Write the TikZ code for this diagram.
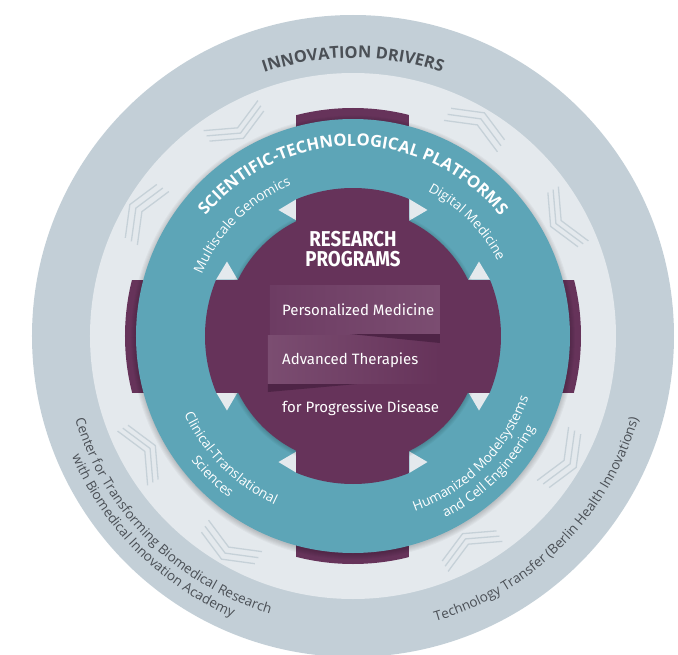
\documentclass[tikz,border=0pt]{standalone}
\usepackage{fontspec}
\setmainfont{Open Sans}
\newfontfamily\fira{Fira Sans}
\newfontfamily\firacond[FakeStretch=0.87]{Fira Sans}
\usetikzlibrary{decorations.text}
\definecolor{outerC}{HTML}{C3CFD7}
\definecolor{lightC}{HTML}{E4E9ED}
\definecolor{tealC}{HTML}{5DA5B7}
\definecolor{purpC}{HTML}{66335A}
\definecolor{purpL}{HTML}{7B4D71}
\definecolor{purpM}{HTML}{6D3C63}
\definecolor{purpD}{HTML}{4E2446}
\definecolor{chevC}{HTML}{C6D1D8}
\definecolor{grayT}{HTML}{4B5056}
\tikzset{
  chev/.style={draw=chevC, line width=1.3pt},
  wtext/.style={text=white, inner sep=0pt},
}
\begin{document}
\begin{tikzpicture}[x=1pt,y=1pt]
\useasboundingbox (-353,-318) rectangle (325,336);
\coordinate (C) at (0,0);
% rings
\fill[outerC] (C) circle (321);
\fill[lightC] (C) circle (263);
% chevrons
\foreach \t in {29,119,209,299}{
  \begin{scope}[rotate=\t]
    \foreach \r in {226,232,238}
      \draw[chev] (\r+14,31) -- (\r,0) -- (\r+14,-31);
  \end{scope}}
\foreach \t in {59.5,149.5,239.5,329.5}{
  \begin{scope}[rotate=\t]
    \foreach \r in {245,252,259}
      \draw[chev] (\r-13,31) -- (\r,0) -- (\r-13,-31);
  \end{scope}}
% purple tabs
\begin{scope}
  \clip (C) circle (228);
  \fill[purpC] (-56.5,-240) rectangle (56.5,240);
  \fill[purpC] (-240,-56.5) rectangle (240,56.5);
\end{scope}
% teal shadow
\foreach \i in {1,...,6}
  \fill[black, opacity=0.03] (0,-1.5) circle (216+\i);
% teal ring
\fill[tealC] (C) circle (217);
% light triangles
\foreach \a in {0,90,180,270}{
  \begin{scope}[rotate=\a]
    \fill[lightC] (-74.5,126) -- (-56.5,136.8) -- (-56.5,115.5) -- cycle;
    \fill[lightC] (74.5,126) -- (56.5,136.8) -- (56.5,115.5) -- cycle;
  \end{scope}}
% inner shadow
\foreach \i in {1,...,5}
  \fill[black, opacity=0.035] (0,-1) circle (127+\i);
% purple centre
\begin{scope}
  \clip (C) circle (148);
  \fill[purpC] (-56.5,-150) rectangle (56.5,150);
  \fill[purpC] (-150,-56.5) rectangle (150,56.5);
\end{scope}
\fill[purpC] (C) circle (128);
% bands
\shade[left color=purpL, right color=purpC] (-85,1) rectangle (87,-47);
\shade[left color=purpM, right color=purpL] (-83,51) rectangle (87,2);
\fill[purpD] (-3,2) -- (87,2) -- (87,-7) -- cycle;
\fill[purpD] (-85,-48) -- (4,-48) -- (-85,-56) -- cycle;
% centre texts
\node[wtext, anchor=base] (rp1) at (0,89.3) {\firacond\bfseries\fontsize{21.5}{21.5}\selectfont RESEARCH};
\node[wtext, anchor=base] (rp2) at (0,69.3) {\firacond\bfseries\fontsize{21.5}{21.5}\selectfont PROGRAMS};
\node[wtext, anchor=base west] (pm) at (-71,21) {\fira\fontsize{15}{15}\selectfont Personalized Medicine};
\node[wtext, anchor=base west] (at) at (-71,-28) {\fira\fontsize{15}{15}\selectfont Advanced Therapies};
\node[wtext, anchor=base west] (pd) at (-71,-76.7) {\fira\fontsize{15}{15}\selectfont for Progressive Disease};
% teal ring texts
\path[decorate, decoration={text along path, text align=center,
  text={|\bfseries\fontsize{16.6}{16.6}\selectfont\color{white}|SCIENTIFIC-TECHNOLOGICAL PLATFORMS}}]
  (150:190) arc[start angle=150, end angle=30, radius=190];
\path[decorate, decoration={text along path, text align=center,
  text={|\fontsize{13.5}{13.5}\selectfont\color{white}|Multiscale Genomics}}]
  (175:163) arc[start angle=175, end angle=95, radius=163];
\path[decorate, decoration={text along path, text align=center,
  text={|\fontsize{13.5}{13.5}\selectfont\color{white}|Digital Medicine}}]
  (85:163) arc[start angle=85, end angle=5, radius=163];
\path[decorate, decoration={text along path, text align=center,
  text={|\fontsize{13.5}{13.5}\selectfont\color{white}|Clinical-Translational}}]
  (185:186) arc[start angle=185, end angle=265, radius=186];
\path[decorate, decoration={text along path, text align=center,
  text={|\fontsize{13.5}{13.5}\selectfont\color{white}|Sciences}}]
  (195:204) arc[start angle=195, end angle=255, radius=204];
\path[decorate, decoration={text along path, text align=center,
  text={|\fontsize{13.5}{13.5}\selectfont\color{white}|Humanized Modelsystems}}]
  (275:186) arc[start angle=275, end angle=355, radius=186];
\path[decorate, decoration={text along path, text align=center,
  text={|\fontsize{13.5}{13.5}\selectfont\color{white}|and Cell Engineering}}]
  (285:204) arc[start angle=285, end angle=345, radius=204];
% outer ring texts
\path[decorate, decoration={text along path, text align=center,
  text={|\bfseries\fontsize{16.4}{16.4}\selectfont\color{grayT}|INNOVATION DRIVERS}}]
  (130:278) arc[start angle=130, end angle=50, radius=278];
\path[decorate, decoration={text along path, text align=center,
  text={|\fontsize{13.5}{13.5}\selectfont\color{grayT}|Center for Transforming Biomedical Research}}]
  (180:290) arc[start angle=180, end angle=270, radius=290];
\path[decorate, decoration={text along path, text align=center,
  text={|\fontsize{13.5}{13.5}\selectfont\color{grayT}|with Biomedical Innovation Academy}}]
  (185:306) arc[start angle=185, end angle=265, radius=306];
\path[decorate, decoration={text along path, text align=center,
  text={|\fontsize{13.5}{13.5}\selectfont\color{grayT}|Technology Transfer (Berlin Health Innovations)}}]
  (270:297) arc[start angle=270, end angle=360, radius=297];
\end{tikzpicture}
\end{document}
